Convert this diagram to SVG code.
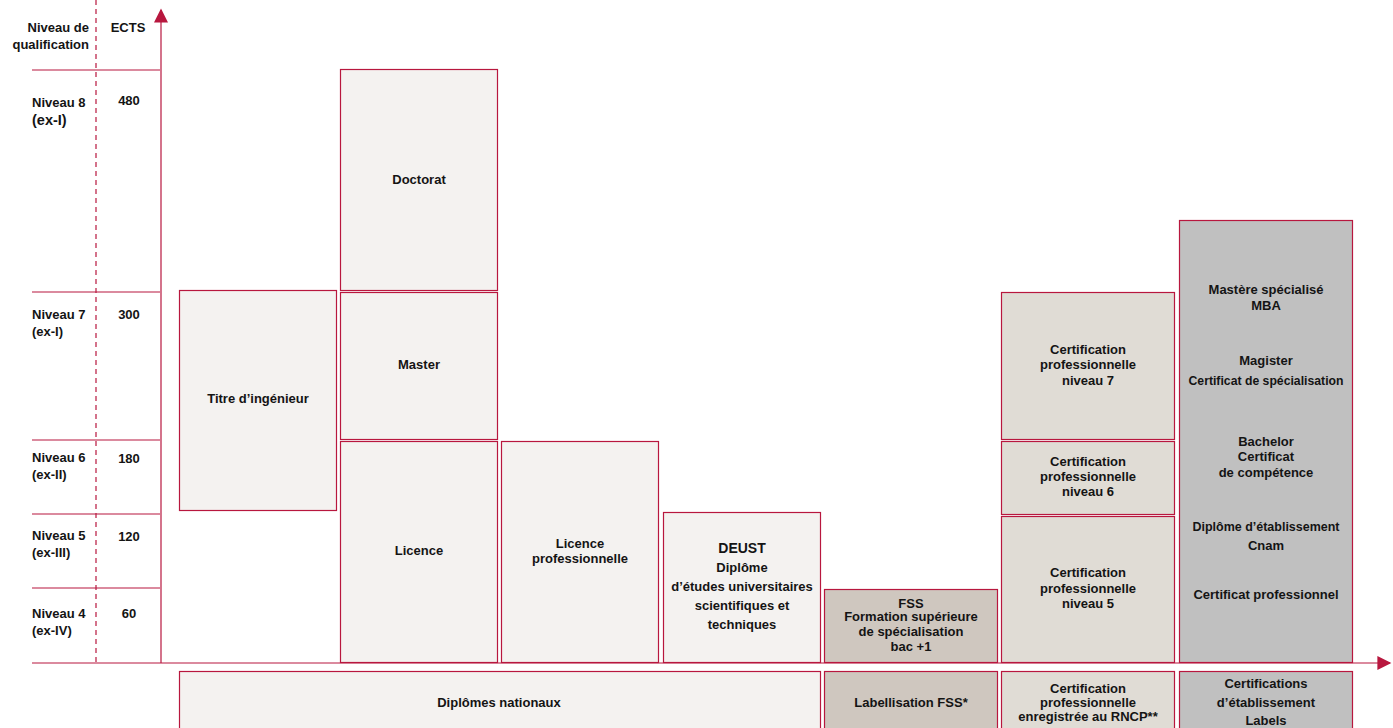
<svg xmlns="http://www.w3.org/2000/svg" width="1393" height="728" viewBox="0 0 1393 728">
<style>
text{font-family:"Liberation Sans",Arial,sans-serif;font-weight:bold;font-size:13px;fill:#141414;text-anchor:middle}
.l{text-anchor:start;font-size:13px}
.r{text-anchor:end}
.b{stroke:#b8173e;stroke-width:1.2}
.c1{fill:#f4f2f0}
.c2{fill:#cfc7bf}
.c3{fill:#e0dcd5}
.c4{fill:#c0c0c0}
.ln{stroke:#b8173e;stroke-width:1.2;fill:none}
</style>
<defs>
<marker id="ah" viewBox="0 0 10 10" refX="9" refY="5" markerWidth="18" markerHeight="14" markerUnits="userSpaceOnUse" orient="auto">
<path d="M0,0 L10,5 L0,10 z" fill="#b8173e"/>
</marker>
</defs>
<g id="axes">
<line class="ln" x1="96" y1="0" x2="96" y2="663" stroke-dasharray="5,4"/>
<line class="ln" x1="32" y1="70" x2="160" y2="70"/>
<line class="ln" x1="32" y1="292" x2="160" y2="292"/>
<line class="ln" x1="32" y1="440" x2="160" y2="440"/>
<line class="ln" x1="32" y1="514" x2="160" y2="514"/>
<line class="ln" x1="32" y1="588" x2="160" y2="588"/>
<line class="ln" x1="32" y1="663" x2="161" y2="663"/>
<line class="ln" x1="161" y1="663" x2="161" y2="10" stroke-width="1.6" marker-end="url(#ah)"/>
<line class="ln" x1="161" y1="663" x2="1390" y2="663" stroke-width="1.6" marker-end="url(#ah)"/>
</g>
<g id="header">
<text class="r" x="89" y="32">Niveau de</text>
<text class="r" x="89" y="49">qualification</text>
<text x="128" y="32">ECTS</text>
</g>
<g id="levels">
<text class="l" x="32" y="107">Niveau 8</text><text class="l" x="32" y="125" style="font-size:14.5px">(ex-I)</text><text x="129" y="105">480</text>
<text class="l" x="32" y="319">Niveau 7</text><text class="l" x="32" y="336">(ex-I)</text><text x="129" y="319">300</text>
<text class="l" x="32" y="462">Niveau 6</text><text class="l" x="32" y="479">(ex-II)</text><text x="129" y="463">180</text>
<text class="l" x="32" y="540">Niveau 5</text><text class="l" x="32" y="557">(ex-III)</text><text x="129" y="541">120</text>
<text class="l" x="32" y="618">Niveau 4</text><text class="l" x="32" y="635">(ex-IV)</text><text x="129" y="618">60</text>
</g>
<g id="titre"><rect class="b c1" x="179.5" y="290.5" width="157" height="220"/><text x="258" y="403">Titre d’ingénieur</text></g>
<g id="doctorat"><rect class="b c1" x="340.5" y="69.5" width="157" height="221"/><text x="419" y="184">Doctorat</text></g>
<g id="master"><rect class="b c1" x="340.5" y="292.5" width="157" height="147"/><text x="419" y="369">Master</text></g>
<g id="licence"><rect class="b c1" x="340.5" y="441.5" width="157" height="221"/><text x="419" y="555">Licence</text></g>
<g id="licpro"><rect class="b c1" x="501.5" y="441.5" width="157" height="221"/><text x="580" y="548">Licence</text><text x="580" y="563">professionnelle</text></g>
<g id="deust"><rect class="b c1" x="663.5" y="512.5" width="157" height="150"/>
<text x="742" y="553" style="font-size:14px">DEUST</text><text x="742" y="572">Diplôme</text><text x="742" y="591">d’études universitaires</text><text x="742" y="610">scientifiques et</text><text x="742" y="629">techniques</text></g>
<g id="fss"><rect class="b c2" x="824.5" y="589.5" width="173" height="73"/>
<text x="911" y="608">FSS</text><text x="911" y="621">Formation supérieure</text><text x="911" y="636">de spécialisation</text><text x="911" y="651">bac +1</text></g>
<g id="cert7"><rect class="b c3" x="1001.5" y="292.5" width="173" height="147"/>
<text x="1088" y="354">Certification</text><text x="1088" y="369">professionnelle</text><text x="1088" y="385">niveau 7</text></g>
<g id="cert6"><rect class="b c3" x="1001.5" y="441.5" width="173" height="73"/>
<text x="1088" y="466">Certification</text><text x="1088" y="481">professionnelle</text><text x="1088" y="496">niveau 6</text></g>
<g id="cert5"><rect class="b c3" x="1001.5" y="516.5" width="173" height="146"/>
<text x="1088" y="577">Certification</text><text x="1088" y="593">professionnelle</text><text x="1088" y="608">niveau 5</text></g>
<g id="etab"><rect class="b c4" x="1179.5" y="220.5" width="173" height="442"/>
<text x="1266" y="294">Mastère spécialisé</text><text x="1266" y="310">MBA</text>
<text x="1266" y="365">Magister</text><text x="1266" y="385" textLength="155" lengthAdjust="spacingAndGlyphs">Certificat de spécialisation</text>
<text x="1266" y="446">Bachelor</text><text x="1266" y="461">Certificat</text><text x="1266" y="477">de compétence</text>
<text x="1266" y="531" textLength="147" lengthAdjust="spacingAndGlyphs">Diplôme d’établissement</text><text x="1266" y="550">Cnam</text>
<text x="1266" y="599">Certificat professionnel</text></g>
<g id="bottom-nat"><rect class="b c1" x="179.5" y="671.5" width="641" height="60"/><text x="499" y="707">Diplômes nationaux</text></g>
<g id="bottom-fss"><rect class="b c2" x="824.5" y="671.5" width="173" height="60"/><text x="911" y="707">Labellisation FSS*</text></g>
<g id="bottom-rncp"><rect class="b c3" x="1001.5" y="671.5" width="173" height="60"/>
<text x="1088" y="693">Certification</text><text x="1088" y="707">professionnelle</text><text x="1088" y="721">enregistrée au RNCP**</text></g>
<g id="bottom-etab"><rect class="b c4" x="1179.5" y="671.5" width="173" height="60"/>
<text x="1266" y="688">Certifications</text><text x="1266" y="707">d’établissement</text><text x="1266" y="725">Labels</text></g>
</svg>
